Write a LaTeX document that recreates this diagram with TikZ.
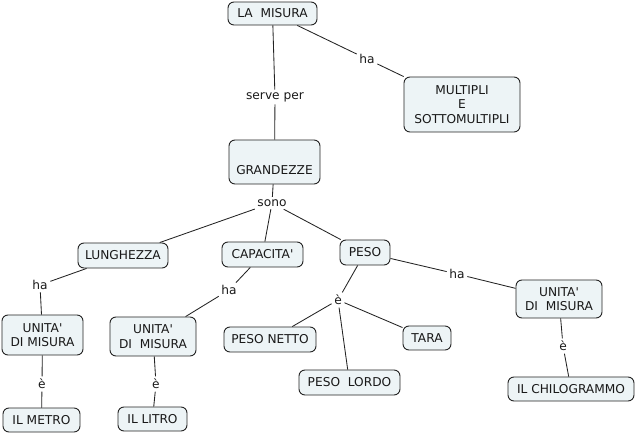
\documentclass[tikz,border=0pt]{standalone}
\usepackage{fontspec}
\newfontfamily\dv{DejaVu Sans}
\definecolor{boxfill}{RGB}{237,244,246}
\definecolor{edge}{RGB}{35,35,35}
\tikzset{
  concept/.style={draw=edge, fill=boxfill, line width=0.9pt, rounded corners=6pt,
    inner sep=0pt, align=center, font=\dv\fontsize{12.2}{14.5}\selectfont, text=black!90},
  linklabel/.style={inner sep=2.5pt, font=\dv\fontsize{12.2}{14}\selectfont, text=black!90},
  conn/.style={draw=edge, line width=0.85pt}
}
\begin{document}
\begin{tikzpicture}[x=1pt,y=-1pt]
\path[use as bounding box] (0,0) rectangle (637,435);
% concepts
\node[concept, minimum width=89pt, minimum height=23pt] (lm) at (272.5,13.5) {LA~ MISURA};
\node[concept, minimum width=116pt, minimum height=55pt] (mult) at (462,104.5) {MULTIPLI\\E\\SOTTOMULTIPLI};
\node[concept, minimum width=91pt, minimum height=44pt] (gr) at (274.5,162) {\strut\\GRANDEZZE};
\node[concept, minimum width=90pt, minimum height=25pt] (lun) at (123,255.5) {LUNGHEZZA};
\node[concept, minimum width=81pt, minimum height=25pt] (cap) at (262.5,254.5) {CAPACITA'};
\node[concept, minimum width=50pt, minimum height=25pt] (peso) at (365,252.5) {PESO};
\node[concept, minimum width=81pt, minimum height=40pt] (u1) at (42.5,335) {UNITA'\\DI MISURA};
\node[concept, minimum width=86pt, minimum height=39pt] (u2) at (153,336.5) {UNITA'\\DI~ MISURA};
\node[concept, minimum width=86pt, minimum height=38pt] (u3) at (559,299) {UNITA'\\DI~ MISURA};
\node[concept, minimum width=92pt, minimum height=25pt] (pn) at (270,339.5) {PESO NETTO};
\node[concept, minimum width=48pt, minimum height=24pt] (tara) at (427,338) {TARA};
\node[concept, minimum width=101pt, minimum height=25pt] (pl) at (349.5,382.5) {PESO~ LORDO};
\node[concept, minimum width=77pt, minimum height=24pt] (metro) at (41.5,420) {IL METRO};
\node[concept, minimum width=69pt, minimum height=24pt] (litro) at (152.5,419) {IL LITRO};
\node[concept, minimum width=126pt, minimum height=24pt] (chilo) at (571,389) {IL CHILOGRAMMO};
% link labels
\node[linklabel] (serve) at (275,97) {serve per};
\node[linklabel] (ha1) at (367,59) {ha};
\node[linklabel] (sono) at (272,203) {sono};
\node[linklabel] (ha2) at (40,285) {ha};
\node[linklabel] (ha3) at (229,290) {ha};
\node[linklabel] (ha4) at (457,274) {ha};
\node[linklabel] (e1) at (338,300) {è};
\node[linklabel] (e2) at (42,384) {è};
\node[linklabel] (e3) at (156,384) {è};
\node[linklabel] (e4) at (563,346) {è};
% connectors
\draw[conn] (lm) -- (serve);
\draw[conn] (serve) -- (gr);
\draw[conn] (lm) -- (ha1);
\draw[conn] (ha1) -- (mult);
\draw[conn] (gr) -- (sono);
\draw[conn] (sono) -- (lun);
\draw[conn] (sono) -- (cap);
\draw[conn] (sono) -- (peso);
\draw[conn] (lun) -- (ha2);
\draw[conn] (ha2) -- (u1);
\draw[conn] (cap) -- (ha3);
\draw[conn] (ha3) -- (u2);
\draw[conn] (peso) -- (ha4);
\draw[conn] (ha4) -- (u3);
\draw[conn] (peso) -- (e1);
\draw[conn] (e1) -- (pn);
\draw[conn] (e1) -- (tara);
\draw[conn] (e1) -- (pl);
\draw[conn] (u1) -- (e2);
\draw[conn] (e2) -- (metro);
\draw[conn] (u2) -- (e3);
\draw[conn] (e3) -- (litro);
\draw[conn] (u3) -- (e4);
\draw[conn] (e4) -- (chilo);
\end{tikzpicture}
\end{document}
